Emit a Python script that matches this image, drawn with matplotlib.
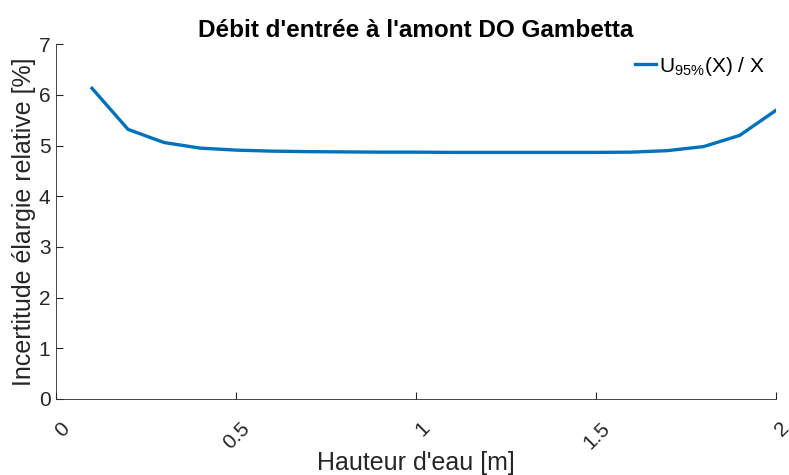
import matplotlib
matplotlib.use("Agg")
import matplotlib.pyplot as plt
import matplotlib.transforms as mtransforms

plt.rcParams['font.family'] = ['Liberation Sans', 'DejaVu Sans']
plt.rcParams['mathtext.fontset'] = 'custom'
plt.rcParams['mathtext.rm'] = 'Liberation Sans'

# water height [m] and relative expanded uncertainty [%]
hauteur = [0.1, 0.2, 0.3, 0.4, 0.5, 0.6, 0.7, 0.8, 0.9, 1.0,
           1.1, 1.2, 1.3, 1.4, 1.5, 1.6, 1.7, 1.8, 1.9, 2.0]
incertitude = [6.13, 5.32, 5.06, 4.95, 4.91, 4.89, 4.88, 4.875, 4.87, 4.87,
               4.865, 4.865, 4.865, 4.865, 4.865, 4.87, 4.90, 4.98, 5.20, 5.69]

xticks = [0, 0.5, 1, 1.5, 2]
xticklabels = ['0', '0.5', '1', '1.5', '2']
yticks = [0, 1, 2, 3, 4, 5, 6, 7]

axcol = '#262626'

fig = plt.figure(figsize=(7.89, 4.75), dpi=100)
ax = fig.add_axes([0.071, 0.16, 0.912, 0.747])

ax.plot(hauteur, incertitude, color='#0072BD', lw=2.4,
        label=r'U$_{\mathregular{95\%}}$(X) / X')

ax.set_xlim(0, 2)
ax.set_ylim(0, 7)
ax.set_xticks(xticks)
ax.set_xticklabels(xticklabels, rotation=45, ha='right', va='center',
                   rotation_mode='anchor')
ax.set_yticks(yticks)
ax.tick_params(direction='in', length=5, colors=axcol, labelsize=15)
ax.tick_params(axis='x', pad=19)
ax.tick_params(axis='y', pad=4)
# shift rotated x labels a little to the right of their ticks
shift = mtransforms.ScaledTranslation(0.11, 0, fig.dpi_scale_trans)
for lab in ax.get_xticklabels():
    lab.set_transform(lab.get_transform() + shift)
for s in ['top', 'right']:
    ax.spines[s].set_visible(False)
for s in ['left', 'bottom']:
    ax.spines[s].set_color(axcol)
    ax.spines[s].set_linewidth(0.6)

ax.set_title("Débit d'entrée à l'amont DO Gambetta", fontsize=17.5,
             fontweight='bold', color='black', pad=5)
ax.set_xlabel("Hauteur d'eau [m]", fontsize=18, color=axcol, va='baseline')
ax.xaxis.set_label_coords(0.5, -0.2)
ax.set_ylabel("Incertitude élargie relative [%]", fontsize=18, color=axcol, labelpad=2)

ax.legend(loc='upper right', frameon=False, fontsize=15, handlelength=1.0,
          handletextpad=0.15, borderaxespad=0.1, bbox_to_anchor=(1.0, 1.0))

fig.savefig('out.png', dpi=100)
